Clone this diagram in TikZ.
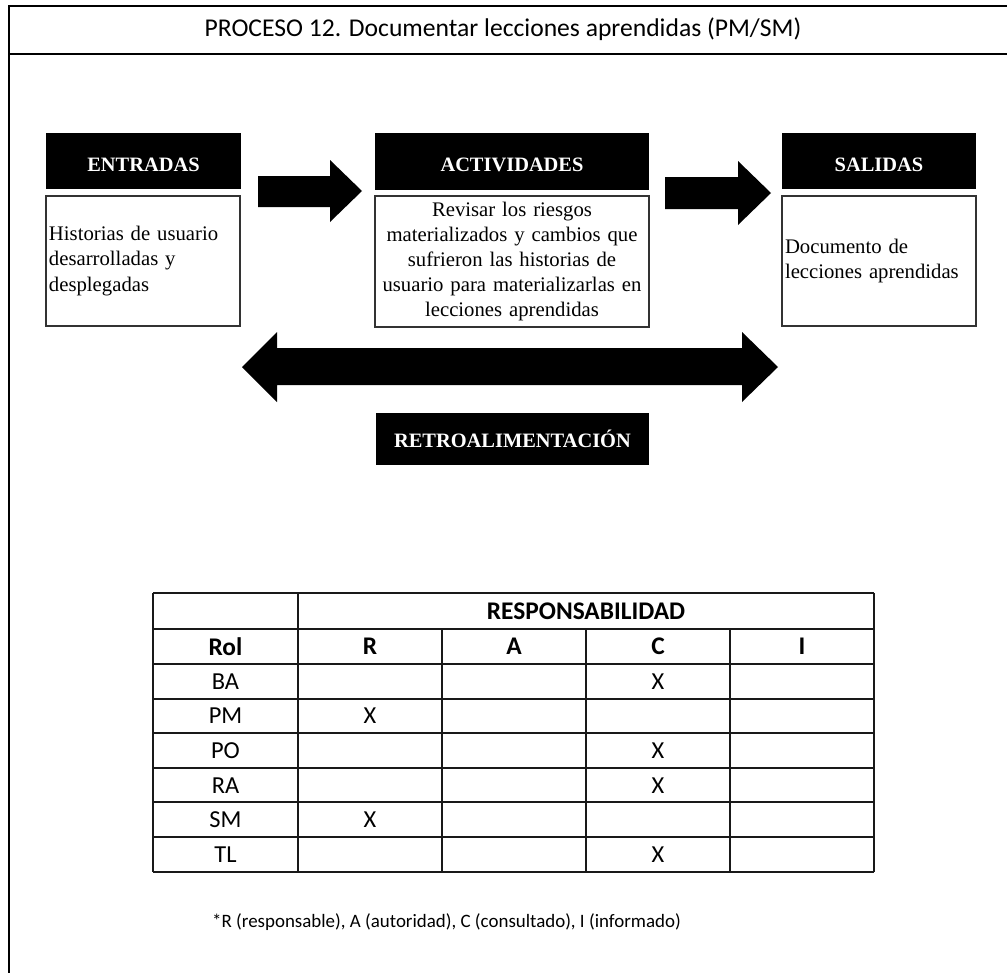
\documentclass[tikz,border=0pt]{standalone}
\usepackage{fontspec}
\setmainfont{Liberation Serif}
\newfontfamily\calfont{Carlito}
\begin{document}
\begin{tikzpicture}[x=1bp,y=-1bp,
  frameline/.style={line width=2.4bp, black},
  hdr/.style={fill=black, text=white, inner sep=0pt, text height=20bp, text depth=0bp, font=\fontsize{20.5}{24}\selectfont\bfseries},
  txtbox/.style={draw=black!80, line width=1.3bp, inner xsep=2bp, inner ysep=0pt, font=\fontsize{20.8}{25.3}\selectfont},
  blockarrow/.style={fill=black, draw=none},
  grid/.style={line width=1.6bp, black!90},
  cell/.style={inner sep=0pt, font=\calfont\fontsize{24.5}{28}\selectfont},
  cellb/.style={inner sep=0pt, font=\calfont\bfseries\fontsize{25.5}{28}\selectfont}]
\useasboundingbox (0,0) rectangle (1007,973);
% outer frame
\draw[frameline] (9,973) -- (9,6) -- (1007,6);
\draw[frameline] (9,54) -- (1007,54);
\node[inner sep=0pt, font=\calfont\fontsize{25.7}{30}\selectfont] (title) at (503,29) {PROCESO 12. Documentar lecciones aprendidas (PM/SM)};
% headers
\node[hdr, minimum width=195bp, minimum height=56bp] (entH) at (143.5,161) {ENTRADAS};
\node[hdr, minimum width=274bp, minimum height=57bp] (actH) at (512,161.5) {ACTIVIDADES};
\node[hdr, minimum width=194bp, minimum height=56bp] (salH) at (879,161) {SALIDAS};
% boxes
\node[txtbox, minimum width=194bp, minimum height=130bp, text width=188bp, align=left] (entB) at (143,261) {Historias de usuario\\desarrolladas y\\desplegadas};
\node[txtbox, minimum width=274bp, minimum height=131bp, text width=268bp, align=center] (actB) at (512,261.5) {Revisar los riesgos\\materializados y cambios que\\sufrieron las historias de\\usuario para materializarlas en\\lecciones aprendidas};
\node[txtbox, minimum width=194bp, minimum height=130bp, text width=188bp, align=left] (salB) at (879,261) {Documento de\\lecciones aprendidas};
% block arrows
\fill[blockarrow] (258,176) -- (330,176) -- (330,160) -- (362,191) -- (330,222) -- (330,207) -- (258,207) -- cycle;
\fill[blockarrow] (665,177) -- (738,177) -- (738,161) -- (771,193) -- (738,225) -- (738,209) -- (665,209) -- cycle;
\fill[blockarrow] (242,367) -- (277,332) -- (277,348) -- (742,348) -- (742,332) -- (778,367) -- (742,402) -- (742,385) -- (277,385) -- (277,402) -- cycle;
\node[hdr, text height=16bp, minimum width=273bp, minimum height=52bp] (retro) at (512.5,439) {RETROALIMENTACIÓN};
% table
\foreach \y in {593,629,664,699,733,768,802,837,872} \draw[grid] (153,\y) -- (874,\y);
\foreach \x in {153,298,874} \draw[grid] (\x,593) -- (\x,872);
\foreach \x in {442,586,730} \draw[grid] (\x,629) -- (\x,872);
\node[cellb] (resp) at (586,611) {RESPONSABILIDAD};
\node[cellb] (rolH) at (225.5,646.5) {Rol};
\node[cellb] (rH) at (370,646.5) {R};
\node[cellb] (aH) at (514,646.5) {A};
\node[cellb] (cH) at (658,646.5) {C};
\node[cellb] (iH) at (802,646.5) {I};
\foreach \r/\mx [count=\i] in {BA/658,PM/370,PO/658,RA/658,SM/370,TL/658} {
  \node[cell] (rol\i) at (225.5,{646.5+34.7*\i}) {\r};
  \node[cell] (mark\i) at (\mx,{646.5+34.7*\i}) {X};
}
\node[anchor=west, inner sep=0pt, font=\calfont\fontsize{19}{22}\selectfont] (note) at (212,922) {*R (responsable), A (autoridad), C (consultado), I (informado)};
\end{tikzpicture}
\end{document}
